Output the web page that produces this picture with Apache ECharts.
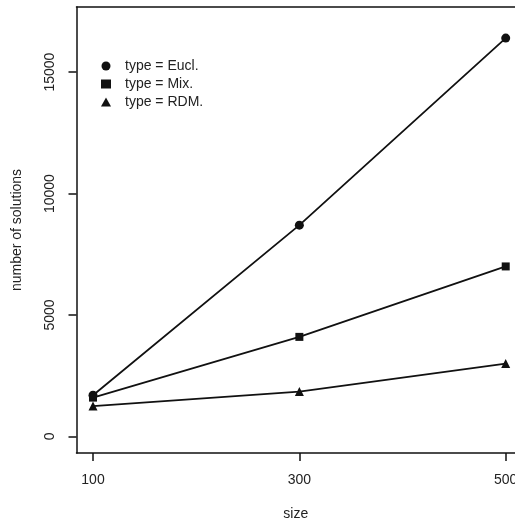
<!DOCTYPE html>
<html>
<head>
<meta charset="utf-8">
<script src="https://cdn.jsdelivr.net/npm/echarts@6/dist/echarts.min.js"></script>
<style>html,body{margin:0;padding:0;background:#fff}#c{width:515px;height:523px}</style>
</head>
<body>
<div id="c"></div>
<script>
var sizes = [100, 300, 500];
var seriesNames = ['type = Eucl.', 'type = Mix.', 'type = RDM.'];
var eucl = [1700, 8700, 16400];
var mix = [1600, 4100, 7000];
var rdm = [1250, 1850, 3000];
var xTicks = [100, 300, 500];
var yTicks = [0, 5000, 10000, 15000];
var symbols = ['circle', 'rect', 'triangle'];
var symbolSizes = [9, 8, 9];
var values = [eucl, mix, rdm];

var FONT = 'Liberation Sans, Arial, sans-serif';
var INK = '#111';
var TXT = '#222';
var chart = echarts.init(document.getElementById('c'), null, {renderer: 'canvas'});
var series = seriesNames.map(function (n, i) {
  return {
    name: n,
    type: 'line',
    data: sizes.map(function (s, j) { return [s, values[i][j]]; }),
    symbol: symbols[i],
    symbolSize: symbolSizes[i],
    showAllSymbol: true,
    lineStyle: {color: INK, width: 1.8},
    itemStyle: {color: INK},
    animation: false
  };
});
var fmt = function (v) { return String(v); };
chart.setOption({
  animation: false,
  grid: {left: 76.5, top: 7, bottom: 70, right: 0, show: false, containLabel: false, outerBoundsMode: 'none'},
  legend: {
    orient: 'vertical', left: 96, top: 54, itemWidth: 10, itemHeight: 9, itemGap: 4,
    data: seriesNames.map(function (n, i) { return {name: n, icon: symbols[i]}; }),
    textStyle: {fontFamily: FONT, fontSize: 14, color: TXT, padding: [0, 0, 0, 9]},
    selectedMode: false
  },
  xAxis: [{
    type: 'value', min: 84, max: 509, position: 'bottom',
    name: 'size', nameLocation: 'middle', nameGap: 54,
    nameTextStyle: {fontFamily: FONT, fontSize: 14, color: TXT},
    axisLine: {show: true, onZero: false, lineStyle: {color: INK, width: 1.5}},
    splitLine: {show: false},
    axisTick: {show: true, length: 8, lineStyle: {color: INK, width: 1.5}, customValues: xTicks},
    axisLabel: {fontFamily: FONT, fontSize: 14, color: TXT, margin: 20, customValues: xTicks, formatter: fmt, hideOverlap: false}
  }, {
    type: 'value', min: 84, max: 509, position: 'top',
    axisLine: {show: true, onZero: false, lineStyle: {color: INK, width: 1.5}},
    splitLine: {show: false}, axisTick: {show: false}, axisLabel: {show: false}
  }],
  yAxis: {
    type: 'value', min: -680, max: 17680,
    name: 'number of solutions', nameLocation: 'middle', nameGap: 52,
    nameTextStyle: {fontFamily: FONT, fontSize: 14, color: TXT},
    axisLine: {show: true, onZero: false, lineStyle: {color: INK, width: 1.5}},
    splitLine: {show: false},
    axisTick: {show: true, length: 8, lineStyle: {color: INK, width: 1.5}, customValues: yTicks},
    axisLabel: {fontFamily: FONT, fontSize: 14, color: TXT, margin: 19, rotate: 90, customValues: yTicks, formatter: fmt}
  },
  series: series
});
</script>
</body>
</html>
